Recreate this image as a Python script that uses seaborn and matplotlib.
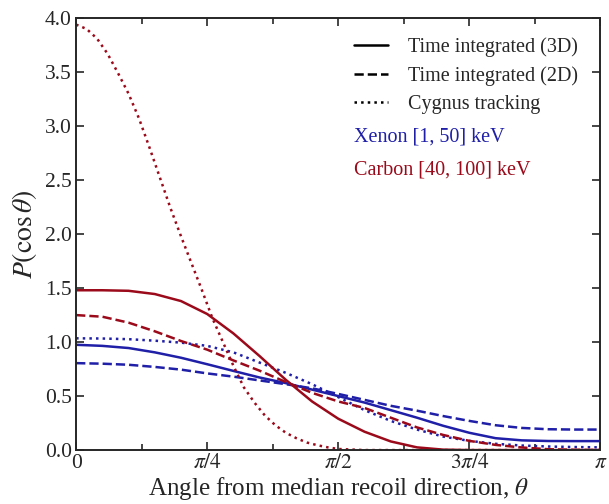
import numpy as np
import pandas as pd
import matplotlib
matplotlib.use("Agg")
import matplotlib.pyplot as plt
from matplotlib.lines import Line2D
from matplotlib.ticker import MultipleLocator
import seaborn as sns

# angle grid in units of pi
t = [0.0, 0.05, 0.10, 0.15, 0.20, 0.25, 0.30, 0.35, 0.40, 0.45, 0.50,
     0.55, 0.60, 0.65, 0.70, 0.75, 0.80, 0.85, 0.90, 0.95, 1.0]

xe_3d = [0.975, 0.965, 0.945, 0.905, 0.855, 0.795, 0.733, 0.672, 0.62, 0.56, 0.50,
         0.44, 0.37, 0.30, 0.225, 0.16, 0.11, 0.09, 0.084, 0.083, 0.083]
xe_2d = [0.805, 0.80, 0.79, 0.77, 0.745, 0.71, 0.68, 0.645, 0.61, 0.572, 0.52,
         0.465, 0.41, 0.365, 0.315, 0.27, 0.23, 0.205, 0.193, 0.19, 0.19]
xe_cyg = [1.035, 1.033, 1.027, 1.013, 0.995, 0.965, 0.905, 0.81, 0.715, 0.61, 0.49,
          0.37, 0.27, 0.19, 0.125, 0.085, 0.058, 0.042, 0.033, 0.028, 0.025]
c_3d = [1.48, 1.48, 1.475, 1.445, 1.38, 1.26, 1.08, 0.87, 0.65, 0.45, 0.29,
        0.17, 0.08, 0.025, 0.004, 0.0, 0.0, 0.0, 0.0, 0.0, 0.0]
c_2d = [1.25, 1.235, 1.18, 1.10, 1.01, 0.93, 0.83, 0.735, 0.63, 0.53, 0.45,
        0.39, 0.30, 0.21, 0.14, 0.085, 0.048, 0.024, 0.008, 0.002, 0.0]

# cygnus carbon curve is steep, finer grid
t_cc = [0.0, 0.02, 0.04, 0.06, 0.08, 0.10, 0.12, 0.14, 0.16, 0.18, 0.20, 0.22,
        0.24, 0.26, 0.28, 0.30, 0.32, 0.34, 0.36, 0.38, 0.40, 0.42, 0.44, 0.46,
        0.48, 0.50, 0.55, 1.0]
c_cyg = [3.94, 3.90, 3.81, 3.67, 3.49, 3.30, 3.07, 2.80, 2.52, 2.24, 1.98, 1.73,
         1.48, 1.22, 1.00, 0.78, 0.58, 0.44, 0.32, 0.23, 0.16, 0.11, 0.07, 0.045,
         0.025, 0.01, 0.0, 0.0]

xe_col = "#1f1fa8"
c_col = "#9b0a1a"

sns.set_style("ticks")
plt.rcParams["font.family"] = ["Liberation Serif", "DejaVu Serif"]
plt.rcParams["mathtext.fontset"] = "stix"
plt.rcParams["xtick.direction"] = "in"
plt.rcParams["ytick.direction"] = "in"

fig = plt.figure(figsize=(6.09, 5.04), dpi=100)
ax = fig.add_axes([0.125, 0.107, 0.861, 0.857])

th = np.array(t) * np.pi
lw = 1.8
sns.lineplot(x=th, y=xe_3d, ax=ax, color=xe_col, lw=lw, linestyle="-")
sns.lineplot(x=th, y=xe_2d, ax=ax, color=xe_col, lw=lw, linestyle="--")
sns.lineplot(x=th, y=xe_cyg, ax=ax, color=xe_col, lw=lw, linestyle=":")
sns.lineplot(x=th, y=c_3d, ax=ax, color=c_col, lw=lw, linestyle="-")
sns.lineplot(x=th, y=c_2d, ax=ax, color=c_col, lw=lw, linestyle="--")
sns.lineplot(x=np.array(t_cc) * np.pi, y=c_cyg, ax=ax, color=c_col, lw=lw, linestyle=":")

ax.set_xlim(0, np.pi)
ax.set_ylim(0, 4.0)
ax.set_xticks([0, np.pi / 4, np.pi / 2, 3 * np.pi / 4, np.pi])
ax.set_xticklabels(["0", r"$\pi/4$", r"$\pi/2$", r"$3\pi/4$", r"$\pi$"])
ax.xaxis.set_minor_locator(MultipleLocator(np.pi / 8))
ax.yaxis.set_major_locator(MultipleLocator(0.5))
ax.tick_params(which="both", top=True, right=True, labelsize=15.5, width=1.2)
ax.tick_params(axis="x", pad=3)
ax.tick_params(axis="y", pad=3)
ax.tick_params(which="major", length=6)
ax.tick_params(which="minor", length=4)
for s in ax.spines.values():
    s.set_linewidth(1.4)

ax.set_xlabel(r"Angle from median recoil direction, $\theta$", fontsize=18, labelpad=1)
ax.set_ylabel(r"$P(\cos\theta)$", fontsize=20, labelpad=4)

handles = [Line2D([], [], color="k", lw=lw, linestyle="-"),
           Line2D([], [], color="k", lw=lw, linestyle="--"),
           Line2D([], [], color="k", lw=lw, linestyle=":")]
ax.legend(handles, ["Time integrated (3D)", "Time integrated (2D)", "Cygnus tracking"],
          loc="upper left", bbox_to_anchor=(0.529, 0.955), frameon=False, fontsize=14.5,
          handlelength=1.7, handletextpad=1.0, labelspacing=0.45,
          borderpad=0, borderaxespad=0)
ax.text(0.529, 0.724, "Xenon [1, 50] keV", transform=ax.transAxes, color=xe_col,
        fontsize=14.5, va="center")
ax.text(0.529, 0.648, "Carbon [40, 100] keV", transform=ax.transAxes, color=c_col,
        fontsize=14.5, va="center")

fig.savefig("out.png", dpi=100)
